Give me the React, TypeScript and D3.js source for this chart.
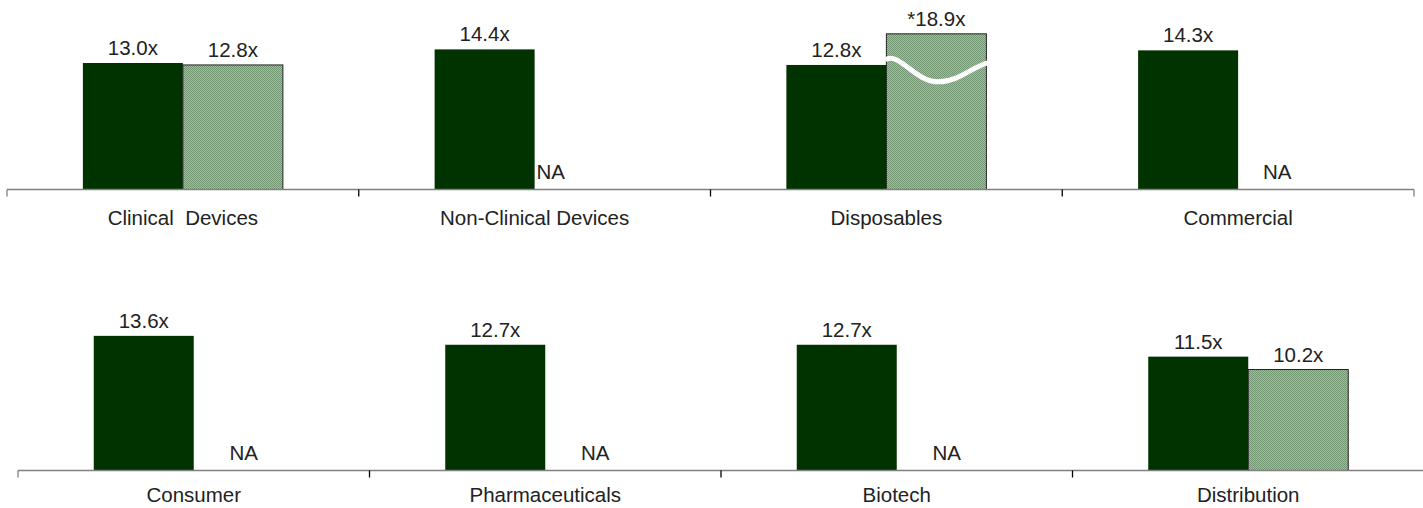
import React from "react";
import * as d3 from "d3";

// ---- data ----
const topCategories = ["Clinical  Devices", "Non-Clinical Devices", "Disposables", "Commercial"];
const topSeriesA = [13.0, 14.4, 12.8, 14.3];
const topSeriesB: (number | null)[] = [12.8, null, 18.9, null];
const topBrokenB = [false, false, true, false];

const bottomCategories = ["Consumer", "Pharmaceuticals", "Biotech", "Distribution"];
const bottomSeriesA = [13.6, 12.7, 12.7, 11.5];
const bottomSeriesB: (number | null)[] = [null, null, null, 10.2];
const bottomBrokenB = [false, false, false, false];

const seriesKeys = ["A", "B"];

const W = 1423;
const H = 508;
const FONT = "'Liberation Sans', Arial, Helvetica, sans-serif";
const DARK = "#003300";
const TXT = "#222";
const FS = 20.5;

type PanelProps = {
  categories: string[];
  a: number[];
  b: (number | null)[];
  broken: boolean[];
  x0: number;
  x1: number;
  axisY: number;
  yMax: number;
  yTop: number;
  labelDy: number;
  naDx: number[];
};

function Panel({ categories, a, b, broken, x0, x1, axisY, yMax, yTop, labelDy, naDx }: PanelProps) {
  const x = d3.scaleBand<string>().domain(categories).range([x0, x1]).paddingInner(0).paddingOuter(0);
  const y = d3.scaleLinear().domain([0, yMax]).range([axisY, yTop]);
  const bw = x.bandwidth();
  const inner = (cat: string) =>
    d3
      .scaleBand<string>()
      .domain(seriesKeys)
      .range([x(cat)! + bw / 2 - 100, x(cat)! + bw / 2 + 100])
      .padding(0);
  const ticks = d3.range(categories.length + 1).map((i) => x0 + i * bw);

  return (
    <g>
      {categories.map((cat, i) => {
        const ib = inner(cat);
        const w = ib.bandwidth();
        const va = a[i];
        const vb = b[i];
        const xa = ib("A")!;
        const xb = ib("B")!;
        const ya = y(va);
        const vbDraw = vb == null ? 0 : Math.min(vb, yMax);
        const yb = y(vbDraw);
        return (
          <g key={cat}>
            <rect x={xa} y={ya} width={w} height={axisY - ya} fill={DARK} />
            <text x={xa + w / 2} y={ya - 8} textAnchor="middle" fontSize={FS} fill={TXT} fontFamily={FONT}>
              {d3.format(".1f")(va) + "x"}
            </text>
            {vb != null ? (
              <g>
                <rect
                  x={xb}
                  y={yb}
                  width={w}
                  height={axisY - yb}
                  fill="url(#dots)"
                  stroke="#222"
                  strokeWidth={1}
                />
                {broken[i] && (
                  <path
                    d={`M${xb - 1},${yb + 26} C${xb + 12},${yb + 17} ${xb + 28},${yb + 48} ${xb + 52},${yb + 48} C${xb + 72},${yb + 48} ${xb + 86},${yb + 33} ${xb + w + 1},${yb + 29}`}
                    fill="none"
                    stroke="#fff"
                    strokeWidth={5}
                  />
                )}
                <text x={xb + w / 2} y={yb - 8} textAnchor="middle" fontSize={FS} fill={TXT} fontFamily={FONT}>
                  {(broken[i] ? "*" : "") + d3.format(".1f")(vb) + "x"}
                </text>
              </g>
            ) : (
              <text
                x={xb + w / 2 + naDx[i]}
                y={axisY - 11}
                textAnchor="middle"
                fontSize={FS}
                fill={TXT}
                fontFamily={FONT}
              >
                NA
              </text>
            )}
            <text
              x={x(cat)! + bw / 2}
              y={axisY + labelDy}
              textAnchor="middle"
              fontSize={FS}
              fill={TXT}
              fontFamily={FONT}
              style={{ whiteSpace: "pre" }}
            >
              {cat}
            </text>
          </g>
        );
      })}
      <line x1={x0} x2={x1} y1={axisY} y2={axisY} stroke="#808080" strokeWidth={1.5} />
      {ticks.map((t, i) => (
        <line
          key={i}
          x1={t}
          x2={t}
          y1={axisY}
          y2={axisY + 7}
          stroke={i === 0 || i === ticks.length - 1 ? "#808080" : "#000"}
          strokeWidth={1.3}
        />
      ))}
    </g>
  );
}

export default function App() {
  return (
    <svg
      width={W}
      height={H}
      viewBox={`0 0 ${W} ${H}`}
      style={{ position: "fixed", left: 0, top: 0, background: "#fff" }}
    >
      <defs>
        <pattern id="dots" width={2} height={2} patternUnits="userSpaceOnUse">
          <rect width={2} height={2} fill="#a2bda2" />
          <rect width={1} height={1} fill="#729672" />
          <rect x={1} y={1} width={1} height={1} fill="#729672" />
        </pattern>
      </defs>
      <rect width={W} height={H} fill="#fff" />
      <Panel
        categories={topCategories}
        a={topSeriesA}
        b={topSeriesB}
        broken={topBrokenB}
        x0={7}
        x1={1414}
        axisY={189.5}
        yMax={16}
        yTop={189.5 - 16 * 9.73}
        labelDy={35}
        naDx={[0, -34, 0, -11]}
      />
      <Panel
        categories={bottomCategories}
        a={bottomSeriesA}
        b={bottomSeriesB}
        broken={bottomBrokenB}
        x0={18}
        x1={1424}
        axisY={470.5}
        yMax={14}
        yTop={470.5 - 14 * 9.9}
        labelDy={31}
        naDx={[0, 0, 0, 0]}
      />
    </svg>
  );
}
